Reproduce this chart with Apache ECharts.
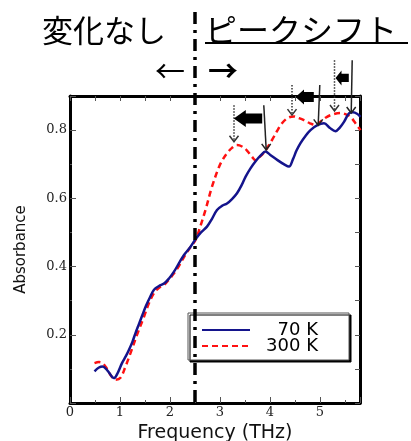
<!DOCTYPE html>
<html><head><meta charset="utf-8">
<script src="https://cdn.jsdelivr.net/npm/echarts@6/dist/echarts.min.js"></script>
<style>html,body{margin:0;padding:0;background:#fff}#c{width:411px;height:441px}</style>
</head><body><div id="c"></div>
<script>
// ---- data ----
const freq70 = [0.49,0.58,0.65,0.75,0.88,0.96,1.04,1.12,1.18,1.25,1.31,1.38,1.44,1.52,1.60,1.68,1.78,1.88,1.98,2.08,2.18,2.28,2.40,2.51,2.62,2.74,2.84,2.94,3.04,3.14,3.24,3.34,3.43,3.51,3.61,3.72,3.81,3.91,4.00,4.15,4.30,4.38,4.46,4.53,4.61,4.71,4.81,4.94,5.08,5.20,5.31,5.40,5.48,5.58,5.66,5.74,5.81];
const abs70  = [0.093,0.104,0.107,0.095,0.073,0.090,0.117,0.138,0.156,0.180,0.205,0.232,0.255,0.285,0.310,0.332,0.343,0.350,0.365,0.385,0.410,0.434,0.456,0.480,0.500,0.517,0.540,0.566,0.578,0.585,0.598,0.615,0.638,0.663,0.688,0.710,0.725,0.737,0.728,0.712,0.698,0.693,0.715,0.740,0.762,0.783,0.800,0.814,0.820,0.806,0.797,0.808,0.824,0.849,0.852,0.848,0.839];
const freq300 = [0.49,0.58,0.66,0.74,0.82,0.91,1.01,1.11,1.21,1.34,1.48,1.58,1.68,1.78,1.88,1.98,2.08,2.18,2.28,2.40,2.51,2.60,2.71,2.84,2.98,3.06,3.14,3.24,3.34,3.44,3.54,3.64,3.71,3.80,3.91,4.04,4.14,4.24,4.36,4.48,4.58,4.68,4.80,4.91,5.02,5.14,5.28,5.41,5.52,5.61,5.70,5.81];
const abs300  = [0.117,0.120,0.116,0.100,0.080,0.068,0.074,0.107,0.146,0.200,0.253,0.293,0.322,0.338,0.346,0.362,0.380,0.402,0.428,0.455,0.478,0.515,0.566,0.634,0.692,0.715,0.732,0.748,0.756,0.752,0.740,0.722,0.712,0.722,0.740,0.771,0.797,0.820,0.836,0.840,0.835,0.829,0.820,0.815,0.826,0.839,0.847,0.850,0.846,0.839,0.822,0.800];
const seriesNames = ['70 K', '300 K'];
const xTickLabels = ['0','1','2','3','4','5'];
const yTickLabels = ['', '0.2', '0.4', '0.6', '0.8'];
const titleLeft = '変化なし';
const titleRight = 'ピークシフト';
const boundaryFreq = 2.5;
// dotted arrows to 300 K peaks
const redArrowFreq = [3.28, 4.44, 5.29];
const redArrowTop  = [0.873, 0.932, 1.005];
const redArrowTip  = [0.766, 0.844, 0.856];
// solid arrows to 70 K peaks
const blueArrowTopFreq = [3.876, 4.996, 5.644];
const blueArrowTipFreq = [3.924, 4.964, 5.624];
const blueArrowTop = [0.873, 0.932, 1.005];
const blueArrowTip = [0.742, 0.814, 0.850];
// block arrows showing the shift
const shiftTail = [3.844, 4.876, 5.576];
const shiftHead = [3.276, 4.51, 5.31];
const shiftAbs  = [0.834, 0.897, 0.953];

const zip = (a, b) => a.map((v, i) => [v, b[i]]);
const chart = echarts.init(document.getElementById('c'));

const tickStyle = {color: '#555', width: 1};
const axLine = {show: true, onZero: false, lineStyle: {color: '#000', width: 3}};
chart.setOption({
  animation: false,
  grid: {left: 70, right: 51, top: 96, bottom: 38, containLabel: false, outerBoundsMode: 'none'},
  xAxis: [{
    type: 'value', min: 0, max: 5.8, interval: 1, position: 'bottom',
    axisLine: axLine, splitLine: {show: false},
    axisTick: {inside: true, length: 6, lineStyle: tickStyle},
    minorTick: {show: true, splitNumber: 2, length: 3, lineStyle: tickStyle},
    axisLabel: {fontFamily: 'DejaVu Serif', fontSize: 13, color: '#222', margin: 3,
      formatter: v => xTickLabels[Math.round(v)] ?? ''},
    name: 'Frequency (THz)', nameLocation: 'middle', nameGap: 20,
    nameTextStyle: {fontFamily: 'DejaVu Sans', fontSize: 19, color: '#111'}
  }, {
    type: 'value', min: 0, max: 5.8, interval: 1, position: 'top',
    axisLine: axLine, splitLine: {show: false},
    axisTick: {inside: true, length: 5, lineStyle: tickStyle},
    minorTick: {show: true, splitNumber: 2, length: 5, lineStyle: tickStyle},
    axisLabel: {show: false}
  }],
  yAxis: [{
    type: 'value', min: 0, max: 0.9, interval: 0.2, position: 'left',
    axisLine: axLine, splitLine: {show: false},
    axisTick: {inside: true, length: 6, lineStyle: tickStyle},
    minorTick: {show: true, splitNumber: 2, length: 2, lineStyle: tickStyle},
    axisLabel: {fontFamily: 'DejaVu Serif', fontSize: 13, color: '#222', margin: 3,
      formatter: v => yTickLabels[Math.round(v / 0.2)] ?? ''},
    name: 'Absorbance', nameLocation: 'middle', nameGap: 41,
    nameTextStyle: {fontFamily: 'DejaVu Sans', fontSize: 15, color: '#111'}
  }, {
    type: 'value', min: 0, max: 0.9, interval: 0.2, position: 'right',
    axisLine: axLine, splitLine: {show: false},
    axisTick: {inside: true, length: 5, lineStyle: tickStyle},
    minorTick: {show: true, splitNumber: 2, length: 5, lineStyle: tickStyle},
    axisLabel: {show: false}
  }],
  legend: {
    orient: 'vertical', left: 188, top: 313,
    padding: [8, 31, 5, 13], itemGap: -2, itemWidth: 48, itemHeight: 14,
    backgroundColor: '#fff', borderColor: '#555', borderWidth: 1,
    shadowColor: '#000', shadowOffsetX: 2, shadowOffsetY: 2, shadowBlur: 0,
    itemStyle: {opacity: 0},
    data: seriesNames,
    formatter: n => '{a|' + n + '}',
    textStyle: {fontSize: 18, fontFamily: 'DejaVu Sans', color: '#000',
      rich: {a: {width: 63, align: 'right', fontSize: 18,
      fontFamily: 'DejaVu Sans', color: '#000'}}}
  },
  series: [{
    name: seriesNames[0], type: 'line', data: zip(freq70, abs70),
    smooth: 0.35, symbol: 'none', showSymbol: false, z: 3,
    lineStyle: {color: '#14148c', width: 2.5}, itemStyle: {color: '#14148c'}
  }, {
    name: seriesNames[1], type: 'line', data: zip(freq300, abs300),
    smooth: 0.35, symbol: 'none', showSymbol: false, z: 2,
    lineStyle: {color: '#ff1111', width: 2.5, type: [6, 4]}, itemStyle: {color: '#ff1111'}
  }]
});

const P = p => chart.convertToPixel({seriesIndex: 0}, p);
const g = [];
const Z = 100;
// boundary dash-dot line
const b0 = P([boundaryFreq, 0]);
g.push({type: 'line', z: Z, shape: {x1: b0[0], y1: 12, x2: b0[0], y2: b0[1]},
  style: {stroke: '#000', lineWidth: 3.5, lineDash: [12, 6, 3, 6]}});
// titles
g.push({type: 'text', z: Z, x: 42, y: 30,
  style: {text: titleLeft, font: '31px "Noto Sans CJK JP"', fill: '#000', textAlign: 'left', textVerticalAlign: 'middle', align: 'left', verticalAlign: 'middle'}});
g.push({type: 'text', z: Z, x: 205, y: 30,
  style: {text: titleRight, font: '32px "Noto Sans CJK JP"', fill: '#000', textAlign: 'left', textVerticalAlign: 'middle', align: 'left', verticalAlign: 'middle'}});
g.push({type: 'line', z: Z, shape: {x1: 205, y1: 43, x2: 408, y2: 43}, style: {stroke: '#000', lineWidth: 2}});
g.push({type: 'text', z: Z, x: 170, y: 71,
  style: {text: '←', font: '30px "Noto Sans CJK JP"', fill: '#000', textAlign: 'center', textVerticalAlign: 'middle', align: 'center', verticalAlign: 'middle'}});
g.push({type: 'text', z: Z, x: 223, y: 71,
  style: {text: '→', font: 'bold 30px "Noto Sans CJK JP"', fill: '#000', textAlign: 'center', textVerticalAlign: 'middle', align: 'center', verticalAlign: 'middle'}});

function chevron(x, y, color) {
  return {type: 'polyline', z: Z, shape: {points: [[x - 4.5, y - 6], [x, y], [x + 4.5, y - 6]]},
    style: {stroke: color, lineWidth: 1.5, fill: null}};
}
// dotted arrows
redArrowFreq.forEach((f, i) => {
  const a = P([f, redArrowTop[i]]), b = P([f, redArrowTip[i]]);
  g.push({type: 'line', z: Z, shape: {x1: a[0], y1: a[1], x2: b[0], y2: b[1] - 1},
    style: {stroke: '#333', lineWidth: 1.5, lineDash: [1.5, 1.5]}});
  g.push(chevron(b[0], b[1], '#333'));
});
// solid arrows
blueArrowTopFreq.forEach((f, i) => {
  const a = P([f, blueArrowTop[i]]), b = P([blueArrowTipFreq[i], blueArrowTip[i]]);
  g.push({type: 'line', z: Z, shape: {x1: a[0], y1: a[1], x2: b[0], y2: b[1]},
    style: {stroke: '#222', lineWidth: 1.5}});
  g.push(chevron(b[0], b[1], '#222'));
});
// block arrows
const headLen = [12, 8.5, 6], headHalf = [8.5, 7.5, 7.5], bodyHalf = [5, 5, 4.2];
shiftHead.forEach((f, i) => {
  const t = P([f, shiftAbs[i]]), e = P([shiftTail[i], shiftAbs[i]]);
  const x = t[0], y = t[1], hl = headLen[i], hh = headHalf[i], bh = bodyHalf[i];
  g.push({type: 'polygon', z: Z, shape: {points: [[x, y], [x + hl, y - hh], [x + hl, y - bh], [e[0], y - bh],
    [e[0], y + bh], [x + hl, y + bh], [x + hl, y + hh]]}, style: {fill: '#000'}});
});
chart.setOption({graphic: g});
</script></body></html>
